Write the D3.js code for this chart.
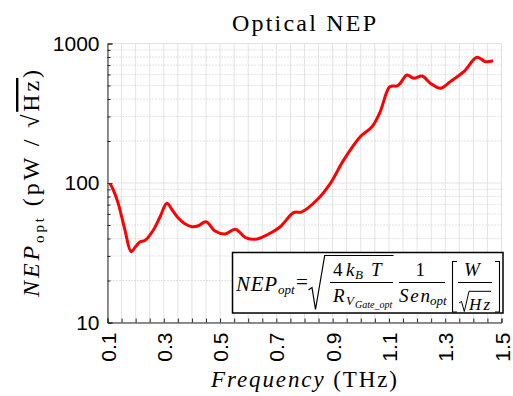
<!DOCTYPE html>
<html>
<head>
<meta charset="utf-8">
<script src="https://cdn.jsdelivr.net/npm/d3@7"></script>
<style>
  body { margin: 0; background: #fff; }
  text { fill: #000; }
</style>
</head>
<body>
<div id="chart"></div>
<script>
// frequency (THz) and optical NEP (pW/sqrt(Hz))
const freq = [0.109, 0.121, 0.138, 0.162, 0.184, 0.200, 0.216, 0.233, 0.263, 0.287,
              0.311, 0.330, 0.352, 0.375, 0.400, 0.423, 0.450, 0.482, 0.518, 0.554,
              0.589, 0.625, 0.666, 0.714, 0.761, 0.791, 0.844, 0.892, 0.939, 0.998,
              1.040, 1.069, 1.103, 1.129, 1.140, 1.164, 1.188, 1.218, 1.247, 1.283,
              1.318, 1.366, 1.413, 1.443, 1.470];
const nep = [99.3, 89, 71.5, 46, 32.2, 35, 37.9, 38.7, 46, 57.3,
             71.5, 64, 55.8, 51, 48.6, 49.4, 52.8, 45.3, 43.1, 46.6,
             40.8, 39.5, 42.4, 48.6, 61.3, 62.2, 75.5, 99.5, 146, 214.8,
             253, 324, 490, 496, 518, 595, 563, 585, 519, 478,
             533, 628, 796, 741, 753];

const xTickLabels = [0.1, 0.3, 0.5, 0.7, 0.9, 1.1, 1.3, 1.5];
const xTicks = d3.range(0.1, 1.5001, 0.05).map(d => +d.toFixed(2));
const yTickLabels = [10, 100, 1000];
const yMinor = [20, 30, 40, 50, 60, 70, 80, 90, 200, 300, 400, 500, 600, 700, 800, 900];

const width = 513, height = 396;
const margin = { top: 43.5, right: 12, bottom: 73.5, left: 107.5 };
const serif = "'Liberation Serif', 'Times New Roman', serif";
const sans = "'Liberation Sans', Arial, sans-serif";

const svg = d3.select("#chart").append("svg")
    .attr("width", width)
    .attr("height", height);

const xScale = d3.scaleLinear().domain([0.1, 1.5]).range([margin.left, width - margin.right + 0.5]);
const yScale = d3.scaleLog().domain([10, 1000]).range([height - margin.bottom, margin.top]);

// grid
const grid = svg.append("g");
grid.selectAll(".vgrid").data(xTicks).join("line")
    .attr("x1", d => xScale(d)).attr("x2", d => xScale(d))
    .attr("y1", yScale(10)).attr("y2", yScale(1000))
    .attr("stroke", "#e3e3e3").attr("stroke-width", 1);
grid.selectAll(".hminor").data(yMinor).join("line")
    .attr("x1", xScale(0.1)).attr("x2", xScale(1.5))
    .attr("y1", d => yScale(d)).attr("y2", d => yScale(d))
    .attr("stroke", "#c8c8c8").attr("stroke-width", 1).attr("stroke-dasharray", "1,2");
grid.selectAll(".hmajor").data(yTickLabels).join("line")
    .attr("x1", xScale(0.1)).attr("x2", xScale(1.5))
    .attr("y1", d => yScale(d)).attr("y2", d => yScale(d))
    .attr("stroke", "#e3e3e3").attr("stroke-width", 1);

// axes (ticks pointing inward)
const bottomAxis = d3.axisBottom(xScale)
    .tickValues(xTicks)
    .tickSize(-4)
    .tickFormat(d => xTickLabels.some(v => Math.abs(v - d) < 1e-6) ? d3.format(".1f")(d) : "");
const xAxisG = svg.append("g")
    .attr("transform", `translate(0,${yScale(10)})`)
    .call(bottomAxis);
xAxisG.selectAll("text")
    .attr("font-family", sans).attr("font-size", 21).attr("fill", "#262626")
    .attr("text-anchor", "end")
    .attr("transform", "rotate(-90)")
    .attr("x", -10).attr("y", 0).attr("dy", "0.36em");

const leftAxis = d3.axisLeft(yScale)
    .tickValues(yTickLabels)
    .tickSize(-5)
    .tickPadding(8)
    .tickFormat(d3.format("d"));
const yAxisG = svg.append("g")
    .attr("transform", `translate(${margin.left},0)`)
    .call(leftAxis);
yAxisG.selectAll("text")
    .attr("font-family", sans).attr("font-size", 21).attr("fill", "#262626");
const yMinorG = svg.append("g")
    .attr("transform", `translate(${margin.left},0)`)
    .call(d3.axisLeft(yScale).tickValues(yMinor).tickSize(-3).tickFormat(""));
yMinorG.select(".domain").remove();

[xAxisG, yAxisG, yMinorG].forEach(g => {
    g.selectAll("line, path").attr("stroke", "#262626");
});

// line
const lineGenerator = d3.line()
    .x(d => xScale(d[0]))
    .y(d => yScale(d[1]))
    .curve(d3.curveCatmullRom.alpha(0.5));
svg.append("path")
    .datum(freq.map((f, i) => [f, nep[i]]))
    .attr("d", lineGenerator)
    .attr("fill", "none")
    .attr("stroke", "#ff0000")
    .attr("stroke-width", 3)
    .attr("stroke-linejoin", "round");

// spread a label (letter-spacing) so it covers the same span as the LaTeX text
function fit(sel, a, b, base, vertical) {
    const n = sel.text().length;
    const bb0 = sel.node().getBBox();
    sel.attr("letter-spacing", ((b - a) - bb0.width) / (n - 1));
    const bb = sel.node().getBBox();
    if (!vertical) sel.attr("transform", `translate(${a - bb.x},${base})`);
    else sel.attr("transform", `translate(${base},${b + bb.x}) rotate(-90)`);
}

// title and axis labels
const title = svg.append("text")
    .attr("font-family", serif).attr("font-size", 24)
    .text("Optical NEP");
fit(title, 232, 376, 31);

const xLabel = svg.append("text")
    .attr("font-family", serif).attr("font-size", 23);
xLabel.append("tspan").attr("font-style", "italic").text("Frequency");
xLabel.append("tspan").text(" (THz)");
fit(xLabel, 210, 397, 386.5);

const yLabel = svg.append("text")
    .attr("font-family", serif).attr("font-size", 24);
yLabel.append("tspan").attr("font-style", "italic").text("NEP");
yLabel.append("tspan").attr("font-size", 15).attr("dy", 5).text("opt");
yLabel.append("tspan").attr("dy", -5).text(" (pW / √");
yLabel.append("tspan").attr("text-decoration", "overline").text("Hz");
yLabel.append("tspan").text(")");
fit(yLabel, 70, 298, 39, true);

// formula box
const fx = svg.append("g");
fx.append("rect")
    .attr("x", 232.5).attr("y", 252.5).attr("width", 270.5).attr("height", 60.5)
    .attr("fill", "#fff").attr("stroke", "#000").attr("stroke-width", 1.5);

const tx = (a, b, y, s, size, italic) => {
    const t = fx.append("text")
        .attr("x", a).attr("y", y)
        .attr("font-family", serif).attr("font-size", size)
        .attr("font-style", italic ? "italic" : "normal")
        .text(s);
    if (s.length > 1 && t.node().getComputedTextLength() < b - a)
        t.attr("textLength", b - a).attr("lengthAdjust", "spacing");
    return t;
};
const stroke = (d, w) => fx.append("path").attr("d", d)
    .attr("fill", "none").attr("stroke", "#000").attr("stroke-width", w || 1);

tx(236, 277, 290.5, "NEP", 21, true);
tx(278, 291, 294, "opt", 13, true);
tx(296, 307, 289, "=", 21, false);
stroke("M308.5,290 L312,287.5 L315.5,309.5 L324.7,255.5 H393.5", 1.2);
tx(333, 340, 276, "4", 19, false);
tx(346, 355, 276, "k", 19, true);
tx(355, 362, 279, "B", 13, true);
tx(371, 386, 276, "T", 19, true);
stroke("M330,282.5 H393");
tx(333, 346, 302, "R", 19, true);
tx(346, 355, 305, "V", 13, true);
tx(355, 391, 308, "Gate_opt", 10, true);
tx(415.5, 421.5, 276, "1", 19, false);
stroke("M399,282.5 H445");
tx(399, 430, 301.5, "Sen", 19, true);
tx(430, 445, 304.5, "opt", 13, true);
stroke("M457,261.5 H452.5 V312 H457", 1.1);
stroke("M495,261.5 H499.5 V312 H495", 1.1);
tx(464, 485, 276, "W", 19, true);
stroke("M458,282.5 H492");
stroke("M459,303 L461.5,301.5 L464.3,311.5 L469,291.3 H491", 1);
tx(469, 490, 309.5, "Hz", 17, true);
</script>
</body>
</html>
